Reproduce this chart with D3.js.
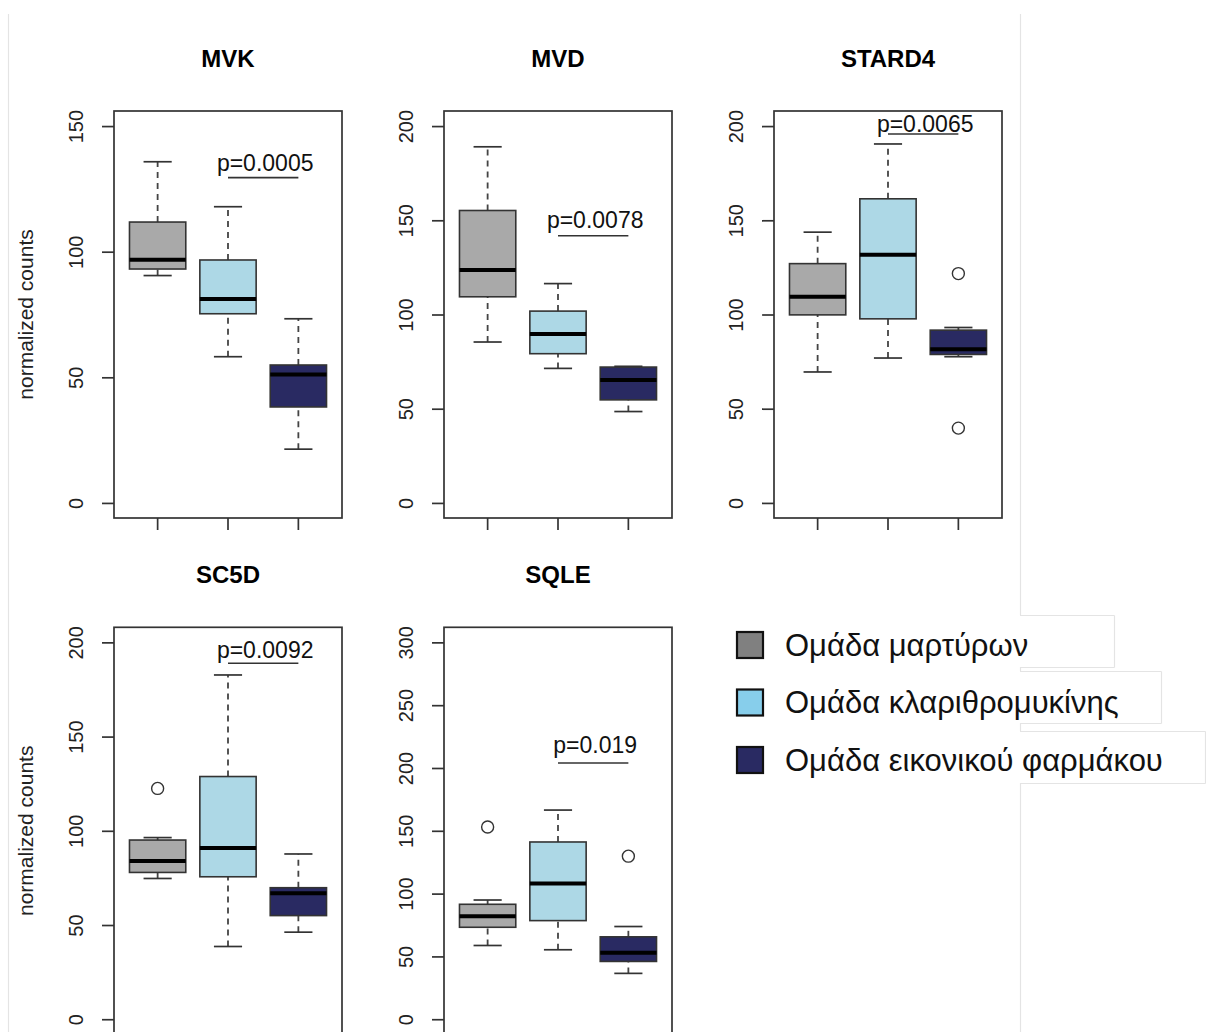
<!DOCTYPE html>
<html>
<head>
<meta charset="utf-8">
<script src="https://cdn.jsdelivr.net/npm/d3@7"></script>
<style>
  body { margin: 0; background: #fff; }
  svg { display: block; font-family: "Liberation Sans", Arial, sans-serif; }
</style>
</head>
<body>
<div id="chart"></div>
<script>
// genes, one panel each
var genes = ["MVK", "MVD", "STARD4", "SC5D", "SQLE"];
var groups = ["Ομάδα μαρτύρων", "Ομάδα κλαριθρομυκίνης", "Ομάδα εικονικού φαρμάκου"];

// box stats per gene: [lower whisker, q1, median, q3, upper whisker]
var controlStats = [[90.5, 93.1, 96.8, 111.8, 135.8], [85.4, 109.4, 123.6, 155.2, 189], [69.5, 99.8, 109.4, 127, 143.7], [74.7, 77.9, 84, 95.1, 96.4], [58.7, 73.2, 82, 91.5, 94.9]];
var clarStats = [[58.2, 75.3, 81.2, 96.7, 117.9], [71.4, 79.2, 89.6, 101.8, 116.4], [76.9, 97.7, 131.7, 161.4, 190.5], [38.6, 75.6, 90.9, 128.8, 182.7], [55.3, 78.5, 108.1, 141.1, 166.5]];
var placeboStats = [[21.4, 38.2, 51.1, 54.9, 73.3], [48.5, 54.7, 65.3, 72.1, 72.5], [77.6, 78.8, 81.5, 91.7, 93.1], [46.2, 55, 66.8, 69.8, 87.7], [36.5, 46, 52.9, 65.6, 73.8]];

var controlOut = [[], [], [], [122.5], [153]];
var clarOut = [[], [], [], [], []];
var placeboOut = [[], [], [121.7, 39.7], [], [129.8]];

var yLimits = [[0, 150], [0, 200], [0, 200], [0, 200], [0, 300]];
var yTicks = [[0, 50, 100, 150], [0, 50, 100, 150, 200], [0, 50, 100, 150, 200], [0, 50, 100, 150, 200], [0, 50, 100, 150, 200, 250, 300]];

var pLabels = ["p=0.0005", "p=0.0078", "p=0.0065", "p=0.0092", "p=0.019"];
var pLineY = [129.5, 141.8, 195.8, 188.9, 204];
var pTextY = [132.1, 146, 197, 191.7, 212.2];

var boxColors = ["#a9a9a9", "#add8e6", "#292a62"];
var legendColors = ["#808080", "#87ceeb", "#292a62"];

var W = 1206, H = 1032;
var svg = d3.select("#chart").append("svg").attr("width", W).attr("height", H);

// faint frame lines left over from the composed figure
var faint = "#e4e4e4";
function faintLine(x1, y1, x2, y2) {
    svg.append("line").attr("x1", x1).attr("y1", y1).attr("x2", x2).attr("y2", y2)
        .attr("stroke", faint).attr("stroke-width", 1.2);
}
faintLine(8.5, 14, 8.5, H);
faintLine(1020.5, 14, 1020.5, 615);
faintLine(1020.5, 667, 1020.5, 671);
faintLine(1020.5, 723, 1020.5, 731);
faintLine(1020.5, 783, 1020.5, H);
[[615, 667, 1115], [671, 723, 1162], [731, 783, 1206]].forEach(function (b) {
    faintLine(1020, b[0] + 0.5, b[2] - 0.5, b[0] + 0.5);
    faintLine(b[2] - 0.5, b[0] + 0.5, b[2] - 0.5, b[1] + 0.5);
    faintLine(1020, b[1] + 0.5, b[2] - 0.5, b[1] + 0.5);
});

// panel frame geometry
var panelW = 228, panelH = 407;
var panelX = [114, 444, 774, 114, 444];
var panelY = [111, 111, 111, 627.3, 627.3];

genes.forEach(function (gene, i) {
    var x0 = panelX[i], y0 = panelY[i];
    var g = svg.append("g");

    // R-style ylim with 4% extension
    var lim = yLimits[i], ext = (lim[1] - lim[0]) * 0.04;
    var y = d3.scaleLinear().domain([lim[0] - ext, lim[1] + ext]).range([y0 + panelH, y0]);
    var x = d3.scaleBand().domain(groups).range([x0, x0 + panelW])
        .paddingInner(0.2).paddingOuter(0.22);
    var bw = x.bandwidth();

    var stats = [controlStats[i], clarStats[i], placeboStats[i]];
    var outs = [controlOut[i], clarOut[i], placeboOut[i]];

    groups.forEach(function (grp, k) {
        var s = stats[k], cx = x(grp) + bw / 2;
        // whiskers
        [[s[0], s[1]], [s[3], s[4]]].forEach(function (seg) {
            g.append("line").attr("x1", cx).attr("x2", cx)
                .attr("y1", y(seg[0])).attr("y2", y(seg[1]))
                .attr("stroke", "#444").attr("stroke-width", 1.8)
                .attr("stroke-dasharray", "6,5");
        });
        [s[0], s[4]].forEach(function (v) {
            g.append("line").attr("x1", cx - bw / 4).attr("x2", cx + bw / 4)
                .attr("y1", y(v)).attr("y2", y(v))
                .attr("stroke", "#333").attr("stroke-width", 1.7);
        });
        g.append("rect").attr("x", x(grp)).attr("y", y(s[3]))
            .attr("width", bw).attr("height", y(s[1]) - y(s[3]))
            .attr("fill", boxColors[k]).attr("stroke", "#333").attr("stroke-width", 1.6);
        g.append("line").attr("x1", x(grp)).attr("x2", x(grp) + bw)
            .attr("y1", y(s[2])).attr("y2", y(s[2]))
            .attr("stroke", "#000").attr("stroke-width", 4);
        outs[k].forEach(function (v) {
            g.append("circle").attr("cx", cx).attr("cy", y(v)).attr("r", 6)
                .attr("fill", "none").attr("stroke", "#333").attr("stroke-width", 1.4);
        });
    });

    // frame
    g.append("rect").attr("x", x0).attr("y", y0).attr("width", panelW).attr("height", panelH)
        .attr("fill", "none").attr("stroke", "#333").attr("stroke-width", 1.7);

    // y axis ticks with rotated labels
    var yaxis = d3.axisLeft(y).tickValues(yTicks[i]).tickSize(12).tickFormat(d3.format("d"));
    var ya = g.append("g").attr("transform", "translate(" + x0 + ",0)").call(yaxis);
    ya.select(".domain").remove();
    ya.selectAll(".tick line").attr("stroke", "#333").attr("stroke-width", 1.7);
    ya.selectAll(".tick text")
        .attr("x", null).attr("dy", null)
        .attr("transform", "translate(-38,0) rotate(-90)")
        .attr("dy", "0.35em")
        .style("text-anchor", "middle")
        .attr("font-size", 20).attr("fill", "#222");

    // x axis ticks, no labels
    var xaxis = d3.axisBottom(x).tickSize(12).tickFormat("");
    var xa = g.append("g").attr("transform", "translate(0," + (y0 + panelH) + ")").call(xaxis);
    xa.select(".domain").remove();
    xa.selectAll(".tick line").attr("stroke", "#333").attr("stroke-width", 1.7);

    // title
    g.append("text").attr("x", x0 + panelW / 2).attr("y", y0 - 44)
        .attr("text-anchor", "middle").attr("font-weight", "bold").attr("font-size", 24)
        .text(gene);

    // p-value bracket between groups 2 and 3
    var c2 = x(groups[1]) + bw / 2, c3 = x(groups[2]) + bw / 2;
    g.append("line").attr("x1", c2).attr("x2", c3)
        .attr("y1", y(pLineY[i])).attr("y2", y(pLineY[i]))
        .attr("stroke", "#333").attr("stroke-width", 1.6);
    g.append("text").attr("x", (c2 + c3) / 2 + 2).attr("y", y(pTextY[i]))
        .attr("text-anchor", "middle").attr("font-size", 23).attr("fill", "#111")
        .text(pLabels[i]);

    // y label on left column
    if (x0 === 114) {
        g.append("text")
            .attr("transform", "translate(33," + (y0 + panelH / 2) + ") rotate(-90)")
            .attr("text-anchor", "middle").attr("font-size", 21).attr("fill", "#222")
            .text("normalized counts");
    }
});

// legend
var legend = svg.append("g").attr("transform", "translate(736,631)");
groups.forEach(function (grp, k) {
    var row = legend.append("g").attr("transform", "translate(0," + (k * 57.5) + ")");
    row.append("rect").attr("x", 1).attr("y", 1).attr("width", 26).attr("height", 26)
        .attr("fill", legendColors[k]).attr("stroke", "#111").attr("stroke-width", 2.2);
    row.append("text").attr("x", 49).attr("y", 24.5)
        .attr("font-size", 31).attr("fill", "#111").text(grp);
});
</script>
</body>
</html>
